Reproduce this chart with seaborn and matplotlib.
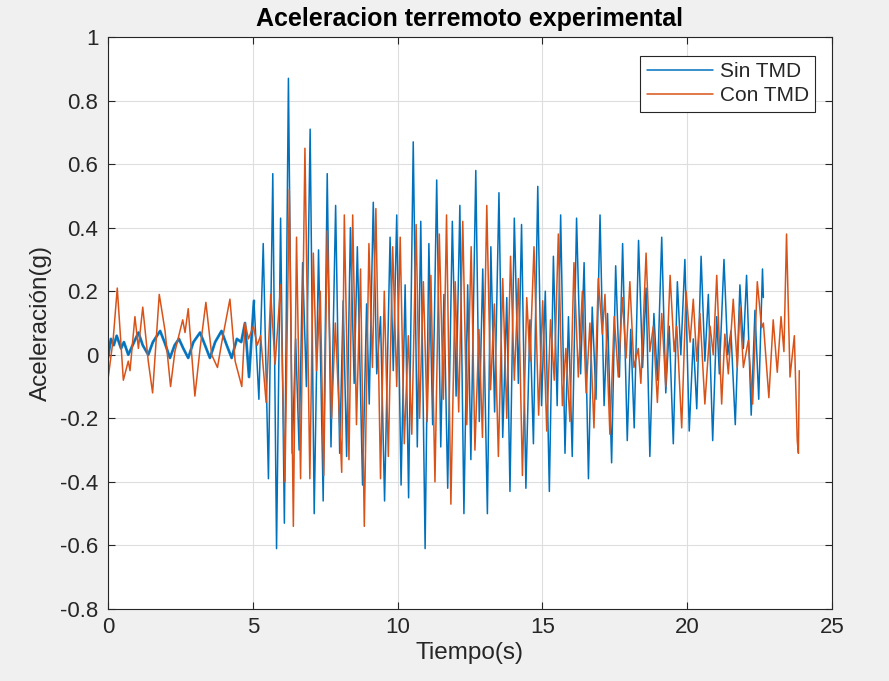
import matplotlib
matplotlib.use("Agg")
import matplotlib.pyplot as plt
import seaborn as sns
import pandas as pd

# ---------------- data ----------------
t_sin = [0.0, 0.1, 0.2, 0.3, 0.45, 0.55, 0.7, 0.85, 1.05, 1.2, 1.39, 1.55, 1.8, 1.95,
         2.14, 2.3, 2.45, 2.6, 2.77, 2.95, 3.18, 3.35, 3.52, 3.7, 3.92, 4.1, 4.27, 4.45,
         4.6, 4.73, 4.87, 5.04, 5.21, 5.36, 5.54, 5.69, 5.82, 5.96, 6.09, 6.23, 6.36,
         6.48, 6.6, 6.72, 6.85, 6.98, 7.12, 7.27, 7.43, 7.57, 7.7, 7.86, 8.0, 8.12, 8.24,
         8.37, 8.5, 8.61, 8.79, 8.93, 9.02, 9.16, 9.28, 9.41, 9.55, 9.74, 9.85, 9.97,
         10.12, 10.26, 10.38, 10.54, 10.68, 10.8, 10.95, 11.08, 11.21, 11.35, 11.49,
         11.6, 11.73, 11.89, 12.02, 12.15, 12.29, 12.42, 12.53, 12.7, 12.82, 12.94,
         13.1, 13.22, 13.35, 13.5, 13.63, 13.77, 13.88, 14.03, 14.17, 14.28, 14.43,
         14.57, 14.69, 14.84, 14.97, 15.1, 15.24, 15.38, 15.51, 15.63, 15.78, 15.9,
         16.03, 16.18, 16.32, 16.44, 16.59, 16.72, 16.85, 16.99, 17.13, 17.25, 17.39,
         17.53, 17.66, 17.77, 17.93, 18.05, 18.17, 18.32, 18.46, 18.58, 18.71, 18.85,
         18.97, 19.12, 19.26, 19.38, 19.52, 19.66, 19.78, 19.92, 20.07, 20.21, 20.33,
         20.48, 20.61, 20.73, 20.88, 21.02, 21.11, 21.27, 21.4, 21.51, 21.66, 21.82,
         21.94, 22.05, 22.21, 22.34, 22.47, 22.6, 22.63]
a_sin = [-0.01, 0.05, 0.03, 0.06, 0.02, 0.04, 0.0, 0.03, 0.07, 0.03, 0.0, 0.04, 0.075, 0.04,
         -0.01, 0.03, 0.05, 0.02, -0.01, 0.04, 0.07, 0.03, -0.01, 0.04, 0.075, 0.03, -0.01, 0.05,
         0.04, 0.10, -0.07, 0.17, -0.14, 0.35, -0.39, 0.57, -0.61, 0.43, -0.53, 0.87, -0.31,
         0.05, -0.30, 0.29, -0.10, 0.71, -0.50, 0.33, -0.46, 0.57, -0.29, 0.47, -0.31, 0.17, -0.32,
         0.40, -0.09, 0.34, -0.41, 0.16, -0.155, 0.48, -0.06, 0.12, -0.46, 0.37, -0.05, 0.44,
         -0.41, 0.22, -0.45, 0.67, -0.29, 0.42, -0.61, 0.35, -0.22, 0.55, -0.29,
         0.19, -0.42, 0.42, -0.13, 0.47, -0.50, 0.22, -0.33, 0.58, -0.21, 0.27,
         -0.50, 0.34, -0.18, 0.51, -0.26, 0.18, -0.43, 0.43, -0.09, 0.41, -0.42,
         0.11, -0.28, 0.53, -0.16, 0.20, -0.43, 0.31, -0.16, 0.44, -0.31, 0.12,
         -0.32, 0.43, -0.06, 0.29, -0.39, 0.15, -0.14, 0.44, -0.16, 0.13, -0.34,
         0.28, -0.07, 0.35, -0.27, 0.08, -0.23, 0.36, -0.04, 0.21, -0.32, 0.13,
         -0.08, 0.37, -0.12, 0.09, -0.28, 0.23, 0.0, 0.30, -0.24, 0.05, -0.17,
         0.31, -0.02, 0.19, -0.27, 0.12, -0.06, 0.30, 0.0, 0.075, -0.22, 0.22,
         0.02, 0.25, -0.19, 0.14, -0.14, 0.27, 0.18]

t_con = [0.01, 0.18, 0.32, 0.53, 0.70, 0.76, 0.93, 1.05, 1.20, 1.39, 1.54, 1.77, 1.97, 2.16,
         2.31, 2.58, 2.66, 2.77, 3.0, 3.18, 3.38, 3.58, 3.78, 3.93, 4.21, 4.39, 4.62, 4.73,
         4.85, 5.02, 5.15, 5.27, 5.46, 5.62, 5.77, 5.96, 6.11, 6.26, 6.4, 6.51, 6.65, 6.8,
         6.97, 7.09, 7.2, 7.33, 7.45, 7.57, 7.72, 7.85, 8.07, 8.16, 8.32, 8.45, 8.58, 8.72,
         8.85, 9.01, 9.13, 9.25, 9.41, 9.54, 9.68, 9.83, 9.97, 10.09, 10.23, 10.37, 10.49,
         10.64, 10.76, 10.89, 11.02, 11.15, 11.29, 11.44, 11.58, 11.69, 11.84, 11.99, 12.11,
         12.25, 12.39, 12.54, 12.67, 12.81, 12.93, 13.08, 13.21, 13.34, 13.48, 13.63, 13.77,
         13.9, 14.03, 14.17, 14.31, 14.46, 14.57, 14.71, 14.87, 15.01, 15.15, 15.28, 15.41,
         15.55, 15.69, 15.81, 15.95, 16.09, 16.24, 16.38, 16.51, 16.64, 16.78, 16.93, 17.07,
         17.16, 17.33, 17.48, 17.62, 17.76, 17.89, 18.02, 18.16, 18.31, 18.4, 18.58, 18.71,
         18.83, 18.97, 19.12, 19.26, 19.41, 19.55, 19.64, 19.81, 19.96, 20.1, 20.21, 20.33,
         20.44, 20.61, 20.79, 20.9, 21.02, 21.19, 21.3, 21.42, 21.59, 21.73, 21.82, 21.94,
         22.11, 22.26, 22.42, 22.57, 22.63, 22.82, 22.97, 23.11, 23.24, 23.34, 23.43, 23.55,
         23.7, 23.8, 23.84, 23.87]
a_con = [-0.07, 0.05, 0.21, -0.08, -0.02, -0.05, 0.12, 0.02, 0.15, -0.02, -0.12, 0.19, 0.075, -0.10,
         0.01, 0.11, 0.07, 0.145, -0.13, 0.02, 0.165, 0.0, -0.04, 0.04, 0.175, -0.02, -0.10, 0.10,
         0.05, 0.09, 0.03, 0.06, -0.15, 0.19, -0.03, 0.22, -0.40, 0.52, -0.54, 0.37, -0.39, 0.65,
         -0.39, 0.32, -0.05, 0.20, -0.38, 0.39, -0.20, 0.10, -0.37, 0.44, -0.33, 0.44, -0.22, 0.27,
         -0.54, 0.35, -0.04, 0.46, -0.39, 0.20, -0.32, 0.34, -0.10, 0.37, -0.28, 0.06, -0.25,
         0.41, -0.20, 0.23, -0.21, 0.25, -0.40, 0.38, -0.14, 0.44, -0.47, 0.23, -0.18,
         0.42, -0.22, 0.34, -0.30, 0.08, -0.26, 0.47, -0.11, 0.16, -0.32, 0.24, -0.20,
         0.31, -0.08, 0.24, -0.38, 0.18, -0.02, 0.34, -0.19, 0.17, -0.24, 0.11, -0.08,
         0.38, -0.16, 0.02, -0.21, 0.29, -0.07, 0.20, -0.12, 0.10, -0.23, 0.24, 0.065,
         0.19, -0.25, 0.12, -0.07, 0.18, -0.01, 0.23, -0.04, 0.02, -0.09, 0.32, 0.01,
         0.09, -0.15, 0.13, -0.10, 0.25, 0.01, 0.09, -0.23, 0.20, 0.04, 0.175, -0.02,
         0.13, -0.155, 0.09, 0.0, 0.25, -0.155, 0.065, -0.06, 0.175, -0.04, 0.15, -0.04,
         0.045, -0.155, 0.23, 0.085, 0.10, -0.135, 0.11, -0.055, 0.12, 0.01, 0.38, -0.07,
         0.06, -0.27, -0.31, -0.05]

series_names = ["Sin TMD", "Con TMD"]
series_colors = ["#0072BD", "#D95319"]
x_ticks = [0, 5, 10, 15, 20, 25]
y_ticks = [-0.8, -0.6, -0.4, -0.2, 0, 0.2, 0.4, 0.6, 0.8, 1]
y_tick_labels = ["-0.8", "-0.6", "-0.4", "-0.2", "0", "0.2", "0.4", "0.6", "0.8", "1"]

df = pd.DataFrame({
    "Tiempo": t_sin + t_con,
    "Aceleracion": a_sin + a_con,
    "Serie": [series_names[0]] * len(t_sin) + [series_names[1]] * len(t_con),
})

# ---------------- style ----------------
sns.set_style("ticks")
plt.rcParams["font.family"] = ["Liberation Sans", "DejaVu Sans"]

fig = plt.figure(figsize=(8.89, 6.81), dpi=100, facecolor="#f0f0f0")
ax = fig.add_axes([108 / 889, 1 - 609 / 681, (832 - 108) / 889, (609 - 37) / 681])
ax.set_facecolor("white")

# noisy, thick-looking blue band before the quake
pre = df[(df["Serie"] == series_names[0]) & (df["Tiempo"] <= 5.04)]
sns.lineplot(data=pre, x="Tiempo", y="Aceleracion", color=series_colors[0],
             linewidth=2.0, alpha=0.85, estimator=None, legend=False, ax=ax)

sns.lineplot(data=df, x="Tiempo", y="Aceleracion", hue="Serie",
             hue_order=series_names, palette=dict(zip(series_names, series_colors)),
             estimator=None, linewidth=1.1, ax=ax)

ax.set_xlim(0, 25)
ax.set_ylim(-0.8, 1)
ax.set_xticks(x_ticks)
ax.set_xticklabels([str(v) for v in x_ticks])
ax.set_yticks(y_ticks)
ax.set_yticklabels(y_tick_labels)

ax.grid(True, color="#dedede", linewidth=0.8)
ax.set_axisbelow(True)
for s in ax.spines.values():
    s.set_visible(True)
    s.set_color("#262626")
    s.set_linewidth(0.8)
ax.tick_params(direction="in", length=5, width=0.8, color="#262626",
               labelsize=16, labelcolor="#262626", top=True, right=True)
ax.tick_params(axis="y", pad=7)
ax.tick_params(axis="x", pad=6)

ax.set_title("Aceleracion terremoto experimental", fontsize=18, fontweight="bold",
             color="black", pad=8)
ax.set_xlabel("Tiempo(s)", fontsize=17.5, color="#262626", labelpad=3)
ax.set_ylabel("Aceleración(g)", fontsize=17.5, color="#262626", labelpad=6)

handles, labels = ax.get_legend_handles_labels()
leg = ax.legend(handles, labels, loc="upper right", bbox_to_anchor=(0.9765, 0.967),
                borderaxespad=0, fontsize=15, frameon=True, fancybox=False,
                handlelength=3.2, handletextpad=0.3, borderpad=0.3, labelspacing=0.25)
leg.get_frame().set_edgecolor("#262626")
leg.get_frame().set_linewidth(0.8)
leg.get_frame().set_facecolor("white")
leg.get_frame().set_alpha(1)
for t in leg.get_texts():
    t.set_color("#262626")

fig.savefig("out.png", dpi=100, facecolor=fig.get_facecolor())
